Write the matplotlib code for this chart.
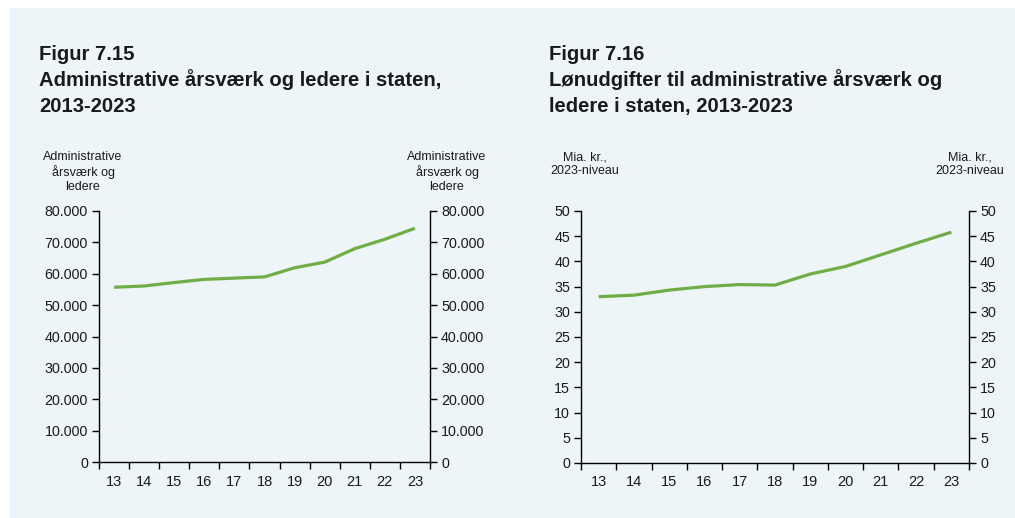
import matplotlib
matplotlib.use("Agg")
import matplotlib.pyplot as plt
from matplotlib.patches import Rectangle

plt.rcParams['font.family'] = ['Liberation Sans', 'DejaVu Sans']

# Data
years = ["13", "14", "15", "16", "17", "18", "19", "20", "21", "22", "23"]
staff = [55700, 56100, 57200, 58200, 58600, 59000, 61900, 63700, 68000, 71000, 74500]
wages = [33.0, 33.3, 34.3, 35.0, 35.4, 35.3, 37.5, 39.0, 41.3, 43.6, 45.8]

staff_ticks = list(range(0, 80001, 10000))
wage_ticks = list(range(0, 51, 5))

BG = "#EDF5F9"
GREEN = "#70AD47"
TXT = "#1a1a1a"

W, H = 1015, 518
fig = plt.figure(figsize=(W / 100, H / 100), dpi=100)
fig.patch.set_facecolor("white")
fig.patches.append(Rectangle((10 / W, 0), 1 - 10 / W, 1 - 8 / H,
                             transform=fig.transFigure, facecolor=BG,
                             edgecolor="none", zorder=-5))


def fx(px):
    return px / W


def fy(py):
    return 1 - py / H


def dk_num(v):
    return f"{v:,}".replace(",", ".")


def panel(left, right, top, bottom, values, ticks, fmt, ymax):
    ax = fig.add_axes([fx(left), fy(bottom), fx(right) - fx(left), fy(top) - fy(bottom)])
    ax.set_facecolor("none")
    x = list(range(len(values)))
    ax.plot(x, values, color=GREEN, lw=2.3, solid_capstyle="butt", zorder=3)
    ax.set_xlim(-0.5, len(values) - 0.5)
    ax.set_ylim(0, ymax)
    ax.set_xticks([i - 0.5 for i in range(len(values) + 1)])
    ax.set_xticklabels([])
    ax.set_xticks(x, minor=True)
    ax.set_xticklabels(years, minor=True)
    ax.tick_params(axis="x", which="major", direction="out", length=5, width=1, color="black")
    ax.tick_params(axis="x", which="minor", length=0, pad=9, labelsize=10.5, labelcolor=TXT)
    ax.set_yticks(ticks)
    ax.set_yticklabels([fmt(t) for t in ticks])
    ax.tick_params(axis="y", direction="out", length=5, width=1, color="black",
                   labelsize=10.3, labelcolor=TXT, pad=3)
    ax.spines["top"].set_visible(False)
    ax.spines["right"].set_visible(False)
    for s in ("left", "bottom"):
        ax.spines[s].set_color("black")
        ax.spines[s].set_linewidth(1)

    ax2 = ax.twinx()
    ax2.set_ylim(0, ymax)
    ax2.set_yticks(ticks)
    ax2.set_yticklabels([fmt(t) for t in ticks])
    ax2.tick_params(axis="y", direction="out", length=5, width=1, color="black",
                    labelsize=10.3, labelcolor=TXT, pad=3)
    for s in ("top", "left", "bottom"):
        ax2.spines[s].set_visible(False)
    ax2.spines["right"].set_color("black")
    ax2.spines["right"].set_linewidth(1)
    return ax


panel(99, 430, 211, 462, staff, staff_ticks, dk_num, 80000)
panel(581, 969, 211, 463, wages, wage_ticks, lambda v: str(v), 50)

# Titles
title_kw = dict(fontsize=14.6, fontweight="bold", color=TXT, va="baseline", ha="left")
fig.text(fx(39), fy(60), "Figur 7.15", **title_kw)
fig.text(fx(39), fy(86), "Administrative årsværk og ledere i staten,", **title_kw)
fig.text(fx(39), fy(112), "2013-2023", **title_kw)

fig.text(fx(549), fy(60), "Figur 7.16", **title_kw)
fig.text(fx(549), fy(86), "Lønudgifter til administrative årsværk og", **title_kw)
fig.text(fx(549), fy(112), "ledere i staten, 2013-2023", **title_kw)

# Axis unit labels
unit_kw = dict(fontsize=9, color=TXT, ha="center", va="top", linespacing=1.2)
fig.text(fx(83), fy(151), "Administrative\nårsværk og\nledere", **unit_kw)
fig.text(fx(447), fy(151), "Administrative\nårsværk og\nledere", **unit_kw)
fig.text(fx(585), fy(151), "Mia. kr.,\n2023-niveau", **unit_kw)
fig.text(fx(970), fy(151), "Mia. kr.,\n2023-niveau", **unit_kw)

fig.savefig("out.png", dpi=100, facecolor=fig.get_facecolor())
